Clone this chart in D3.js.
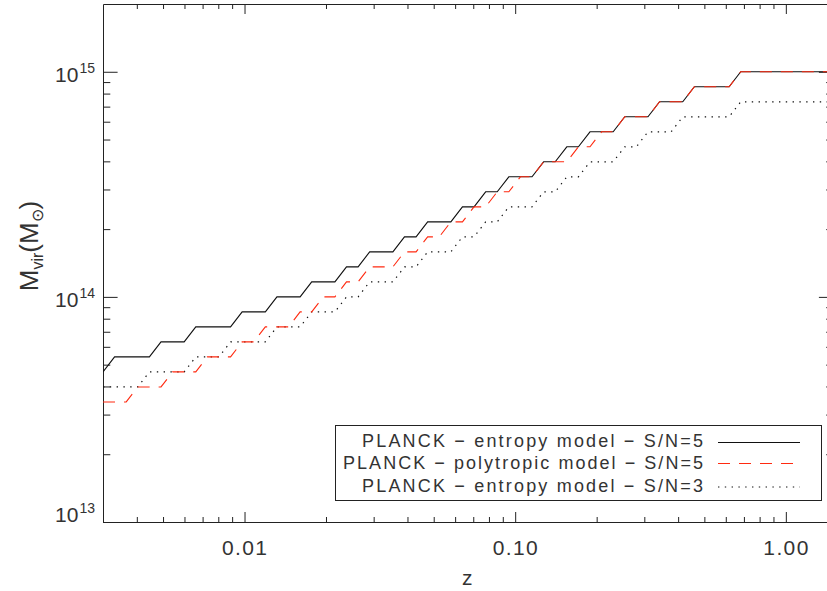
<!DOCTYPE html>
<html>
<head>
<meta charset="utf-8">
<script src="https://cdn.jsdelivr.net/npm/d3@7"></script>
<style>
  body { margin: 0; background: #fff; }
  svg { display: block; font-family: "Liberation Sans", Arial, sans-serif; }
</style>
</head>
<body>
<svg id="chart" width="827" height="591"></svg>
<script>
// Redshift grid (64 points, log-spaced from 0.003 to 1.5)
const zGrid = [
  0.003000, 0.003311, 0.003655, 0.004034, 0.004452, 0.004914, 0.005424, 0.005984,
  0.006606, 0.007290, 0.008046, 0.008880, 0.009800, 0.010815, 0.011937, 0.013175,
  0.014541, 0.016047, 0.017711, 0.019547, 0.021574, 0.02381, 0.02628, 0.02900,
  0.03201, 0.03533, 0.03899, 0.04303, 0.04749, 0.05242, 0.05785, 0.06385,
  0.07047, 0.07778, 0.08584, 0.09474, 0.10457, 0.11541, 0.12737, 0.14058,
  0.15515, 0.17124, 0.18899, 0.20858, 0.23021, 0.25407, 0.28041, 0.30949,
  0.34157, 0.37698, 0.41607, 0.45920, 0.50681, 0.55935, 0.61733, 0.68133,
  0.75197, 0.82993, 0.91597, 1.0110, 1.1158, 1.2314, 1.3591, 1.5000
];

// Limiting virial mass at each redshift, in units of 1e14 Msun
const entropyS5 = [
  0.4642, 0.5412, 0.5412, 0.5412, 0.5412, 0.6310, 0.6310, 0.6310,
  0.7356, 0.7356, 0.7356, 0.7356, 0.8577, 0.8577, 0.8577, 1.000,
  1.000, 1.000, 1.166, 1.166, 1.166, 1.359, 1.359, 1.585,
  1.585, 1.585, 1.848, 1.848, 2.154, 2.154, 2.154, 2.512,
  2.512, 2.929, 2.929, 3.415, 3.415, 3.415, 3.981, 3.981,
  4.642, 4.642, 5.412, 5.412, 5.412, 6.310, 6.310, 6.310,
  7.356, 7.356, 7.356, 8.577, 8.577, 8.577, 8.577, 10.00,
  10.00, 10.00, 10.00, 10.00, 10.00, 10.00, 10.00, 10.00
];

const polytropicS5 = [
  0.3415, 0.3415, 0.3415, 0.3981, 0.3981, 0.3981, 0.4642, 0.4642,
  0.4642, 0.5412, 0.5412, 0.5412, 0.6310, 0.6310, 0.7356, 0.7356,
  0.7356, 0.8577, 0.8577, 1.000, 1.000, 1.166, 1.166, 1.359,
  1.359, 1.359, 1.585, 1.585, 1.848, 1.848, 2.154, 2.154,
  2.512, 2.512, 2.929, 2.929, 3.415, 3.415, 3.981, 3.981,
  3.981, 4.642, 4.642, 5.412, 5.412, 6.310, 6.310, 6.310,
  7.356, 7.356, 7.356, 8.577, 8.577, 8.577, 8.577, 10.00,
  10.00, 10.00, 10.00, 10.00, 10.00, 10.00, 10.00, 10.00
];

const entropyS3 = [
  0.3981, 0.3981, 0.3981, 0.3981, 0.4642, 0.4642, 0.4642, 0.4642,
  0.5412, 0.5412, 0.5412, 0.6310, 0.6310, 0.6310, 0.6310, 0.7356,
  0.7356, 0.7356, 0.8577, 0.8577, 0.8577, 1.000, 1.000, 1.166,
  1.166, 1.166, 1.359, 1.359, 1.585, 1.585, 1.585, 1.848,
  1.848, 2.154, 2.154, 2.512, 2.512, 2.512, 2.929, 2.929,
  3.415, 3.415, 3.981, 3.981, 3.981, 4.642, 4.642, 5.412,
  5.412, 5.412, 6.310, 6.310, 6.310, 6.310, 6.310, 7.356,
  7.356, 7.356, 7.356, 7.356, 7.356, 7.356, 7.356, 7.356
];

const seriesNames = [
  "PLANCK \u2212 entropy model \u2212 S/N=5",
  "PLANCK \u2212 polytropic model \u2212 S/N=5",
  "PLANCK \u2212 entropy model \u2212 S/N=3"
];

// Axis ticks
const xMajorTicks = [0.01, 0.1, 1];
const xTickLabels = ["0.01", "0.10", "1.00"];
const xMinorTicks = [0.004, 0.005, 0.006, 0.007, 0.008, 0.009,
                     0.02, 0.03, 0.04, 0.05, 0.06, 0.07, 0.08, 0.09,
                     0.2, 0.3, 0.4, 0.5, 0.6, 0.7, 0.8, 0.9];
const yMajorTicks = [0.1, 1, 10];          // 1e13, 1e14, 1e15 Msun
const yTickExponents = ["13", "14", "15"];
const yMinorTicks = [0.2, 0.3, 0.4, 0.5, 0.6, 0.7, 0.8, 0.9,
                     2, 3, 4, 5, 6, 7, 8, 9];

// ---- layout ----
const plot = { left: 103, right: 833.5, top: 4, bottom: 522 };
const svg = d3.select("#chart");

const x = d3.scaleLog().domain([0.003, 1.5]).range([plot.left, plot.right]);
const y = d3.scaleLog().domain([0.1, 20]).range([plot.bottom, plot.top]);

const ink = "#222";
const textInk = "#333";
const majX = 10, minX = 5, majY = 14.6, minY = 7.3;

function styleAxis(g) {
  g.selectAll("path.domain").attr("stroke", ink).attr("stroke-width", 1);
  g.selectAll(".tick line").attr("stroke", ink).attr("stroke-width", 1);
  g.selectAll(".tick text").remove();
}

// bottom / top axes (ticks point inward)
[[d3.axisBottom, plot.bottom], [d3.axisTop, plot.top]].forEach(([ax, pos]) => {
  svg.append("g").attr("transform", `translate(0,${pos})`)
    .call(ax(x).tickValues(xMajorTicks).tickSizeInner(-majX).tickSizeOuter(0).tickFormat(""))
    .call(styleAxis);
  svg.append("g").attr("transform", `translate(0,${pos})`)
    .call(ax(x).tickValues(xMinorTicks).tickSizeInner(-minX).tickSizeOuter(0).tickFormat(""))
    .call(g => g.select("path.domain").remove())
    .call(styleAxis);
});

// left / right axes
[[d3.axisLeft, plot.left], [d3.axisRight, plot.right]].forEach(([ax, pos]) => {
  svg.append("g").attr("transform", `translate(${pos},0)`)
    .call(ax(y).tickValues(yMajorTicks).tickSizeInner(-majY).tickSizeOuter(0).tickFormat(""))
    .call(styleAxis);
  svg.append("g").attr("transform", `translate(${pos},0)`)
    .call(ax(y).tickValues(yMinorTicks).tickSizeInner(-minY).tickSizeOuter(0).tickFormat(""))
    .call(g => g.select("path.domain").remove())
    .call(styleAxis);
});

// x tick labels
svg.append("g").selectAll("text")
  .data(xMajorTicks)
  .join("text")
  .attr("x", d => x(d))
  .attr("y", 555)
  .attr("text-anchor", "middle")
  .attr("font-size", 21)
  .attr("fill", textInk)
  .attr("textLength", 45)
  .attr("lengthAdjust", "spacing")
  .text((d, i) => xTickLabels[i]);

// y tick labels: 10^n
const yl = svg.append("g").selectAll("text")
  .data(yMajorTicks)
  .join("text")
  .attr("x", 95)
  .attr("y", d => Math.min(y(d) + 10, plot.bottom))
  .attr("text-anchor", "end")
  .attr("font-size", 21)
  .attr("fill", textInk);
yl.append("tspan").text("10");
yl.append("tspan").attr("dx", 1).attr("dy", -9).attr("font-size", 14).text((d, i) => yTickExponents[i]);

// axis titles
svg.append("text")
  .attr("x", (plot.left + plot.right) / 2 - 1)
  .attr("y", 585)
  .attr("text-anchor", "middle")
  .attr("font-size", 21)
  .attr("fill", textInk)
  .text("z");

const yt = svg.append("text")
  .attr("transform", "translate(38,246) rotate(-90)")
  .attr("text-anchor", "middle")
  .attr("font-size", 26)
  .attr("fill", textInk);
yt.append("tspan").text("M");
yt.append("tspan").attr("dy", 5).attr("font-size", 16).text("vir");
yt.append("tspan").attr("dy", -5).text("(M");
yt.append("tspan").attr("dy", 5).attr("font-size", 16).text("\u2299");
yt.append("tspan").attr("dy", -5).text(")");

// ---- curves ----
svg.append("clipPath").attr("id", "plotclip")
  .append("rect")
  .attr("x", plot.left).attr("y", plot.top)
  .attr("width", plot.right - plot.left).attr("height", plot.bottom - plot.top);

const line = d3.line()
  .x(d => x(d[0]))
  .y(d => y(d[1]));

const styles = [
  { data: entropyS5,    stroke: "#111",    dash: null,      width: 1.1 },
  { data: polytropicS5, stroke: "#ff2a10", dash: "12,9",    width: 1.1 },
  { data: entropyS3,    stroke: "#111",    dash: "1.4,5.4", width: 1.2 }
];

const curves = svg.append("g").attr("clip-path", "url(#plotclip)");
// dotted first, then solid, with the dashed red on top
[styles[2], styles[0], styles[1]].forEach(s => {
  curves.append("path")
    .attr("d", line(zGrid.map((z, i) => [z, s.data[i]])))
    .attr("fill", "none")
    .attr("stroke", s.stroke)
    .attr("stroke-width", s.width)
    .attr("stroke-dasharray", s.dash);
});

// ---- legend ----
const lg = svg.append("g");
lg.append("rect")
  .attr("x", 335.5).attr("y", 425.5)
  .attr("width", 486).attr("height", 75)
  .attr("fill", "#fff")
  .attr("stroke", ink).attr("stroke-width", 1);

const rowBase = [447, 469.3, 491.7];
const rowLen = [341, 360, 341];
const lineY = [442.5, 463.5, 487];
styles.forEach((s, i) => {
  lg.append("text")
    .attr("x", 703)
    .attr("y", rowBase[i])
    .attr("text-anchor", "end")
    .attr("font-size", 18)
    .attr("fill", textInk)
    .attr("textLength", rowLen[i])
    .attr("lengthAdjust", "spacing")
    .text(seriesNames[i]);
  lg.append("line")
    .attr("x1", 718).attr("x2", 800)
    .attr("y1", lineY[i]).attr("y2", lineY[i])
    .attr("stroke", s.stroke)
    .attr("stroke-width", s.width)
    .attr("stroke-dasharray", s.dash);
});
</script>
</body>
</html>
